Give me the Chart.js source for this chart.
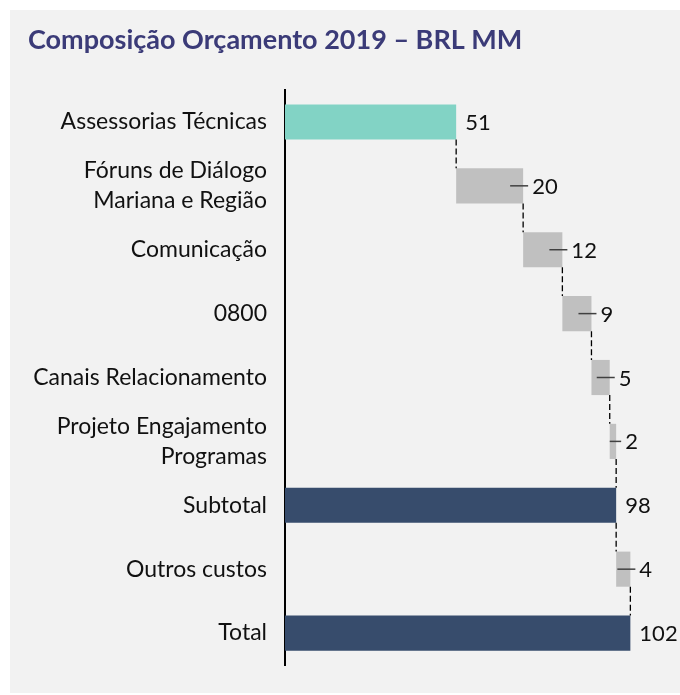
<!DOCTYPE html>
<html>
<head>
<meta charset="utf-8">
<script src="https://cdn.jsdelivr.net/npm/chart.js@4.4.1/dist/chart.umd.min.js"></script>
<style>
  html, body { margin: 0; padding: 0; background: #fff; }
  .panel { position: absolute; left: 10px; top: 10px; width: 670px; height: 683px; background: #f2f2f2; }
  canvas { display: block; }
</style>
</head>
<body>
<div class="panel"><canvas id="chart" width="670" height="683"></canvas></div>
<script>
// ---- Data ----
const categories = [
  'Assessorias Técnicas',
  ['Fóruns de Diálogo', 'Mariana e Região'],
  'Comunicação',
  '0800',
  'Canais Relacionamento',
  ['Projeto Engajamento', 'Programas'],
  'Subtotal',
  'Outros custos',
  'Total'
];
const values = [50.6, 19.8, 11.6, 8.6, 5.4, 1.9, 97.9, 4.2, 102.1];
const kinds = ['start', 'step', 'step', 'step', 'step', 'step', 'total', 'step', 'total'];
const kindColors = { start: '#82d3c5', step: '#c0c0c0', total: '#374c6c' };

const FONT = 'Lato, "Open Sans", sans-serif';

// floating bars: steps continue from the running total, totals start at 0
let running = 0;
const ranges = values.map((v, i) => {
  if (kinds[i] === 'step') {
    const r = [running, running + v];
    running += v;
    return r;
  }
  running = v;
  return [0, v];
});

const waterfallMarks = {
  id: 'waterfallMarks',
  afterDatasetsDraw(chart) {
    const ctx = chart.ctx;
    const bars = chart.getDatasetMeta(0).data;
    ctx.save();
    bars.forEach((bar, i) => {
      const half = bar.height / 2;
      // dashed connector down to the next bar
      if (i < bars.length - 1) {
        const next = bars[i + 1];
        ctx.setLineDash([6, 3]);
        ctx.strokeStyle = '#000';
        ctx.lineWidth = 1.3;
        ctx.beginPath();
        ctx.moveTo(bar.x, bar.y + half);
        ctx.lineTo(bar.x, next.y - next.height / 2);
        ctx.stroke();
      }
      ctx.setLineDash([]);
      // leader tick for the step bars
      if (kinds[i] === 'step') {
        ctx.strokeStyle = '#404040';
        ctx.lineWidth = 1.5;
        ctx.beginPath();
        ctx.moveTo(Math.max(bar.base, bar.x - 13), bar.y);
        ctx.lineTo(bar.x + 5, bar.y);
        ctx.stroke();
      }
      ctx.fillStyle = '#111';
      ctx.font = '22px ' + FONT;
      ctx.textBaseline = 'middle';
      ctx.textAlign = 'left';
      ctx.fillText(String(Math.round(values[i])), bar.x + 9, bar.y + 1);
    });
    // title
    ctx.fillStyle = '#3b3b78';
    ctx.font = 'bold 27px ' + FONT;
    ctx.textBaseline = 'middle';
    ctx.fillText('Composição Orçamento 2019 – BRL MM', 18, 30);
    ctx.restore();
  }
};

new Chart(document.getElementById('chart'), {
  type: 'bar',
  data: {
    labels: categories,
    datasets: [{
      data: ranges,
      backgroundColor: kinds.map(k => kindColors[k]),
      borderWidth: 0,
      barPercentage: 0.55,
      categoryPercentage: 1
    }]
  },
  options: {
    indexAxis: 'y',
    responsive: false,
    animation: false,
    layout: { padding: { top: 80, bottom: 28, left: 0, right: 6 } },
    plugins: {
      legend: { display: false },
      tooltip: { enabled: false }
    },
    scales: {
      x: {
        display: false,
        min: 0,
        max: 115
      },
      y: {
        afterFit: (scale) => {
          scale.width = 275;
          scale.paddingTop = 0;
          scale.paddingBottom = 0;
        },
        grid: { display: false, drawTicks: false },
        border: { display: true, color: '#000', width: 2 },
        ticks: {
          autoSkip: false,
          padding: 18,
          color: '#111',
          font: { family: FONT, size: 23, lineHeight: 1.3 }
        }
      }
    }
  },
  plugins: [waterfallMarks]
});
</script>
</body>
</html>
